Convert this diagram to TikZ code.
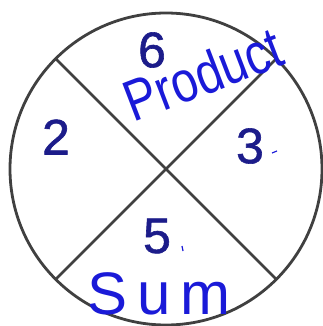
\documentclass[tikz,border=0pt]{standalone}
\usepackage{fontspec}
\setmainfont{Liberation Sans}
\newfontfamily\numfont[FakeBold=1.2]{Liberation Sans}
\usepackage{tikz}
\usetikzlibrary{calc}
\definecolor{numblue}{HTML}{1C1C8A}
\definecolor{penblue}{HTML}{1A1AD8}
\definecolor{rimgray}{HTML}{404040}

\tikzset{
  num/.style={text=numblue,inner sep=0pt,font=\numfont\fontsize{50}{50}\selectfont},
  pen/.style={text=penblue,inner sep=0pt},
  rim/.style={draw=rimgray,line width=2.8pt}
}

\begin{document}
\begin{tikzpicture}[x=1pt,y=-1pt]
  \useasboundingbox (0,0) rectangle (323,326);
  \coordinate (c) at (166,169);
  \draw[rim] (c) circle (156pt);
  \coordinate (nw) at ($(c)+(135:156pt)$);
  \coordinate (ne) at ($(c)+(45:156pt)$);
  \coordinate (sw) at ($(c)+(225:156pt)$);
  \coordinate (se) at ($(c)+(-45:156pt)$);
  \draw[rim] (nw) -- (se);
  \draw[rim] (sw) -- (ne);
  % numbers in the four parts
  \node[num] (six) at (152,50) {6};
  \node[num] (two) at (56,137) {2};
  \node[num] (three) at (250,146) {3};
  \node[num] (five) at (157,236) {5};
  \draw[penblue,line width=1.2pt] (272,153) -- (277,151);
  \draw[penblue,line width=1.2pt] (182,246) -- (183,251);
  % handwriting
  \node[pen,rotate=21,xscale=0.82,font=\fontsize{58}{58}\selectfont] (prod) at (203,74) {Product};
  \node[pen,font=\fontsize{60}{60}\selectfont] (sum) at (159,294) {S\,u\,m};
\end{tikzpicture}
\end{document}
